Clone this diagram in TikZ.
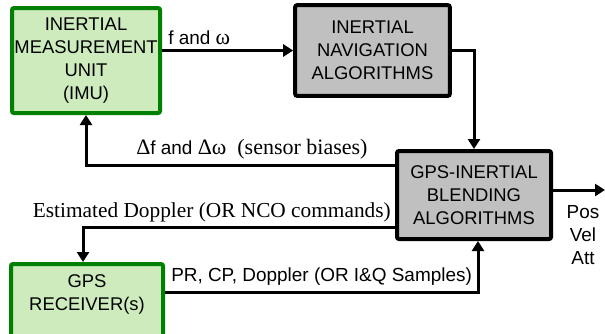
\documentclass[tikz,border=0pt]{standalone}
\usepackage{fontspec}
\setmainfont{Liberation Serif}
\setsansfont{Liberation Sans}
\usepackage{tikz}
\usetikzlibrary{arrows.meta,positioning,calc}
\definecolor{sensorfill}{RGB}{205,235,188}
\definecolor{sensorline}{RGB}{0,128,0}
\definecolor{algofill}{RGB}{192,192,192}
\newcommand{\greek}[1]{{\rmfamily\fontsize{16.5}{19}\selectfont #1}}
\tikzset{
  sensorbox/.style={draw=sensorline,fill=sensorfill,line width=3pt,rounded corners=1.5pt,
    align=center,inner sep=1pt,font=\sffamily\fontsize{13.8}{17.25}\selectfont},
  algobox/.style={draw=black,fill=algofill,line width=3pt,rounded corners=1.5pt,
    align=center,inner sep=1pt,font=\sffamily\fontsize{13.8}{17.25}\selectfont},
  flowarrow/.style={-{Triangle[length=7.5pt,width=9pt]},line width=2.25pt},
  sanslabel/.style={font=\sffamily\fontsize{14.2}{17.25}\selectfont,inner sep=0pt},
  seriflabel/.style={font=\rmfamily\fontsize{16}{19}\selectfont,inner sep=0pt}
}

\begin{document}
\begin{tikzpicture}[x=0.75pt,y=-0.75pt]
  \useasboundingbox (0,0) rectangle (605,333);
  % blocks
  \node[sensorbox,minimum width=111pt,minimum height=78.75pt] (imu) at (86,60.5)
    {INERTIAL\\MEASUREMENT\\UNIT\\(IMU)};
  \node[algobox,minimum width=116pt,minimum height=68pt] (ins) at (372.5,50.5)
    {INERTIAL\\NAVIGATION\\ALGORITHMS};
  \node[algobox,minimum width=115.5pt,minimum height=66pt] (blend) at (474,195)
    {GPS-INERTIAL\\BLENDING\\ALGORITHMS};
  \node[sensorbox,minimum width=114pt,minimum height=55.5pt,text depth=12.5pt,anchor=north] (gps) at (87,262)
    {GPS\\RECEIVER(s)};
  \coordinate (out) at (605,190);

  % signal flow
  \draw[flowarrow] (imu.east |- ins.west) -- (ins.west);
  \draw[flowarrow] (ins.east) -| (blend.north);
  \draw[flowarrow] ([yshift=22.5pt]blend.west) -| (imu.south);
  \draw[flowarrow] ([yshift=-24pt]blend.west) -| ([xshift=-3pt]gps.north);
  \draw[flowarrow] ([yshift=6.75pt]gps.east) -| ([xshift=3pt]blend.south);
  \draw[flowarrow] (blend.east |- out) -- (out);

  % labels on the arrows
  \node[sanslabel,anchor=west] (fw) at (168,38) {f and \greek{ω}};
  \node[sanslabel,anchor=west] (bias) at (136,149)
    {\greek{Δ}f and \greek{Δω\enspace{}(sensor biases)}};
  \node[seriflabel,anchor=east] (dopp) at (391,212) {Estimated Doppler (OR NCO commands)};
  \node[sanslabel,anchor=west] (meas) at (171,277) {PR, CP, Doppler (OR I\&Q Samples)};
  \node[sanslabel,align=center] (pva) at (583,235) {Pos\\Vel\\Att};
\end{tikzpicture}
\end{document}
